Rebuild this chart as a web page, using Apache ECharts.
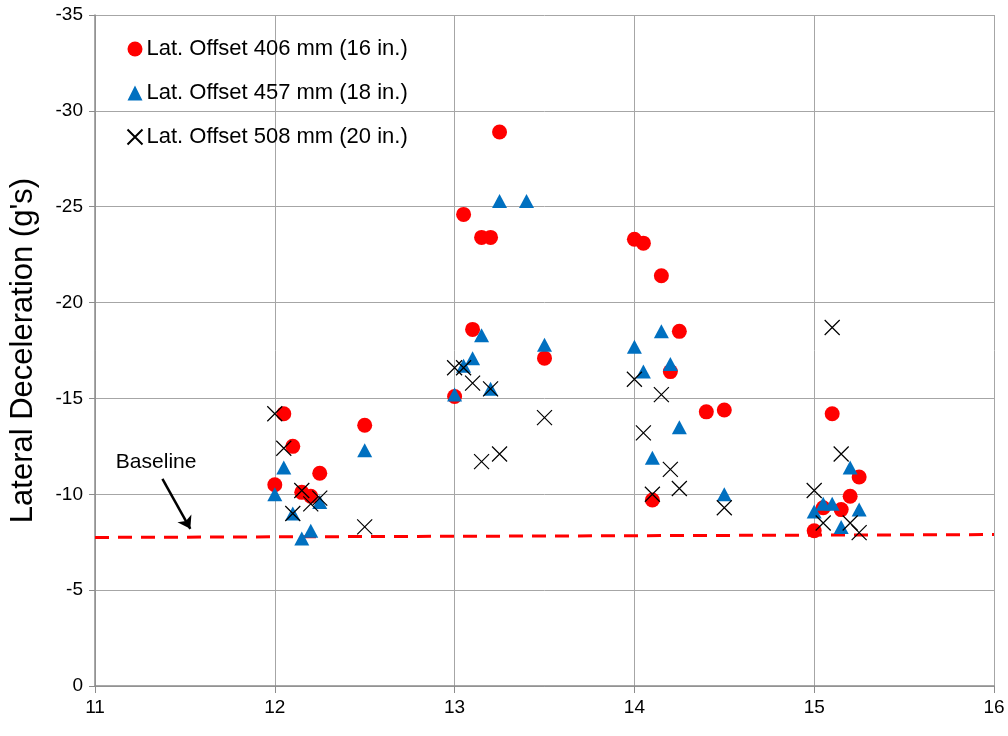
<!DOCTYPE html>
<html lang="en" style="height: 100%">

<head>
  <meta charset="utf-8">
  <title>Lateral Deceleration</title>
  <script src="https://cdn.jsdelivr.net/npm/echarts@6/dist/echarts.min.js"></script>
</head>

<body style="height: 100%; margin: 0; background: #fff">
  <div id="chart" style="width: 1008px; height: 736px"></div>
  <script type="text/javascript">
    // Lat. Offset 406 mm (16 in.)
    const offset406 = [
      [12.0, -10.5], [12.05, -14.2], [12.1, -12.5], [12.15, -10.1], [12.2, -9.9], [12.25, -11.1],
      [12.5, -13.6], [13.0, -15.1], [13.05, -24.6], [13.1, -18.6], [13.15, -23.4], [13.2, -23.4],
      [13.25, -28.9], [13.5, -17.1], [14.0, -23.3], [14.05, -23.1], [14.1, -9.7], [14.15, -21.4],
      [14.2, -16.4], [14.25, -18.5], [14.4, -14.3], [14.5, -14.4], [15.0, -8.1], [15.05, -9.3],
      [15.1, -14.2], [15.15, -9.2], [15.2, -9.9], [15.25, -10.9]
    ];
    // Lat. Offset 457 mm (18 in.)
    const offset457 = [
      [12.0, -10.0], [12.05, -11.4], [12.1, -9.0], [12.15, -7.7], [12.2, -8.1], [12.25, -9.6],
      [12.5, -12.3], [13.0, -15.2], [13.05, -16.7], [13.1, -17.1], [13.15, -18.3], [13.2, -15.5],
      [13.25, -25.3], [13.4, -25.3], [13.5, -17.8], [14.0, -17.7], [14.05, -16.4], [14.1, -11.9],
      [14.15, -18.5], [14.2, -16.8], [14.25, -13.5], [14.5, -10.0], [15.0, -9.1], [15.05, -9.5],
      [15.1, -9.5], [15.15, -8.3], [15.2, -11.4], [15.25, -9.2]
    ];
    // Lat. Offset 508 mm (20 in.)
    const offset508 = [
      [12.0, -14.2], [12.05, -12.4], [12.1, -9.0], [12.15, -10.2], [12.2, -9.5], [12.25, -9.8],
      [12.5, -8.3], [13.0, -16.6], [13.05, -16.6], [13.1, -15.8], [13.15, -11.7], [13.2, -15.5],
      [13.25, -12.1], [13.5, -14.0], [14.0, -16.0], [14.05, -13.2], [14.1, -10.0], [14.15, -15.2],
      [14.2, -11.3], [14.25, -10.3], [14.5, -9.3], [15.0, -10.2], [15.05, -8.5], [15.1, -18.7],
      [15.15, -12.1], [15.2, -8.5], [15.25, -8.0]
    ];
    const baseline = [[11, -7.75], [16, -7.9]];
    const seriesNames = ['Lat. Offset 406 mm (16 in.)', 'Lat. Offset 457 mm (18 in.)', 'Lat. Offset 508 mm (20 in.)'];

    const font = 'Liberation Sans, Arial, sans-serif';
    const chart = echarts.init(document.getElementById('chart'));
    const option = {
      animation: false,
      grid: { left: 95, right: 14, top: 15, bottom: 50 },
      legend: {
        orient: 'vertical',
        left: 120,
        top: 33,
        itemGap: 22,
        itemWidth: 15,
        itemHeight: 15,
        data: seriesNames,
        textStyle: { fontFamily: font, fontSize: 22, color: '#000', padding: [0, 0, 0, -1] }
      },
      xAxis: {
        type: 'value',
        min: 11,
        max: 16,
        interval: 1,
        axisLine: { lineStyle: { color: '#8c8c8c', width: 1.5 } },
        axisTick: { show: true, length: 7, lineStyle: { color: '#8c8c8c' } },
        splitLine: { lineStyle: { color: '#a6a6a6' } },
        axisLabel: { fontFamily: font, fontSize: 19, color: '#000', margin: 12 }
      },
      yAxis: {
        type: 'value',
        min: -35,
        max: 0,
        interval: 5,
        inverse: true,
        name: "Lateral Deceleration (g's)",
        nameLocation: 'middle',
        nameGap: 56,
        nameTextStyle: { fontFamily: font, fontSize: 31, color: '#000' },
        axisLine: { show: true, lineStyle: { color: '#8c8c8c', width: 1.5 } },
        axisTick: { show: true, length: 6, lineStyle: { color: '#8c8c8c' } },
        splitLine: { lineStyle: { color: '#a6a6a6' } },
        axisLabel: { fontFamily: font, fontSize: 19, color: '#000', margin: 12 }
      },
      series: [
        {
          name: 'Baseline',
          type: 'line',
          data: baseline,
          symbol: 'none',
          silent: true,
          lineStyle: { color: '#ff0000', width: 3, type: [14, 9] },
          z: 1,
          markLine: {
            silent: true,
            symbol: ['none', 'arrow'],
            symbolSize: 12,
            lineStyle: { color: '#000', width: 2.5, type: 'solid' },
            label: { show: false },
            data: [[{ coord: [11.375, -10.8] }, { coord: [11.53, -8.2] }]]
          },
          markPoint: {
            symbol: 'circle',
            symbolSize: 0,
            label: {
              show: true,
              formatter: 'Baseline',
              fontFamily: font,
              fontSize: 21,
              color: '#000'
            },
            data: [{ coord: [11.34, -11.65] }]
          }
        },
        {
          name: seriesNames[0],
          type: 'scatter',
          data: offset406,
          symbol: 'circle',
          symbolSize: 15,
          itemStyle: { color: '#ff0000', opacity: 1 },
          z: 3
        },
        {
          name: seriesNames[1],
          type: 'scatter',
          data: offset457,
          symbol: 'triangle',
          symbolSize: [15, 14],
          itemStyle: { color: '#0070c0', opacity: 1 },
          z: 4
        },
        {
          name: seriesNames[2],
          type: 'scatter',
          data: offset508,
          symbol: 'path://M0,0L10,10M10,0L0,10',
          symbolSize: 15,
          itemStyle: { color: 'none', borderColor: '#000', borderWidth: 1.2, opacity: 1 },
          z: 5
        }
      ]
    };
    chart.setOption(option);
  </script>
</body>

</html>
